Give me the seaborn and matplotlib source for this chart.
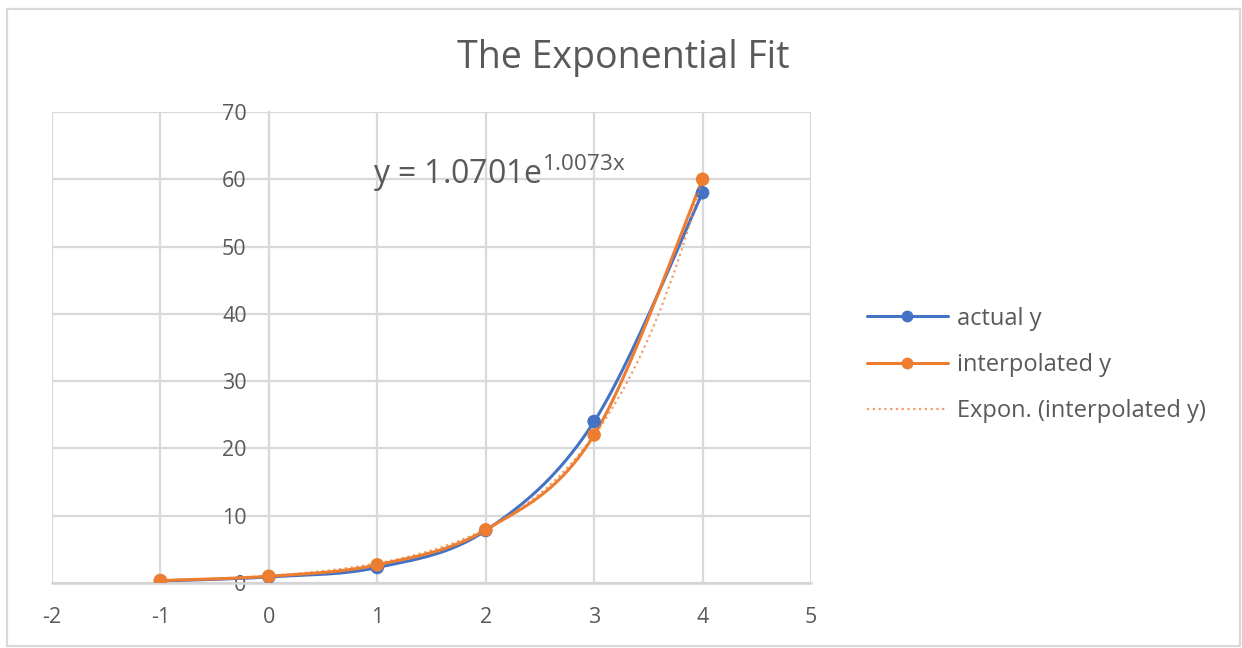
import matplotlib
matplotlib.use("Agg")
import numpy as np
import pandas as pd
import seaborn as sns
import matplotlib.pyplot as plt
from matplotlib.lines import Line2D
from matplotlib.patches import Rectangle

# ---- data ----
x_vals = [-1, 0, 1, 2, 3, 4]
actual_y = [0.3, 0.9, 2.3, 7.8, 24.0, 58.0]
interpolated_y = [0.37, 1.0, 2.7, 7.9, 22.0, 60.0]
fit_a = 1.0701
fit_b = 1.0073
x_ticks = [-2, -1, 0, 1, 2, 3, 4, 5]
y_ticks = [0, 10, 20, 30, 40, 50, 60, 70]
series_names = ["actual y", "interpolated y", "Expon. (interpolated y)"]
title_text = "The Exponential Fit"

BLUE = "#4472C4"
ORANGE = "#ED7D31"
GRID = "#D9D9D9"
TEXT = "#595959"


def smooth_curve(xs, ys, steps=40):
    """Catmull-Rom style smoothing (cubic Bezier) through the given points."""
    xs = np.asarray(xs, float)
    ys = np.asarray(ys, float)
    px = np.concatenate([[xs[0]], xs, [xs[-1]]])
    py = np.concatenate([[ys[0]], ys, [ys[-1]]])
    out_x, out_y = [], []
    t = np.linspace(0, 1, steps)
    for i in range(1, len(px) - 2):
        p0 = np.array([px[i], py[i]])
        p3 = np.array([px[i + 1], py[i + 1]])
        c1 = p0 + (np.array([px[i + 1], py[i + 1]]) - np.array([px[i - 1], py[i - 1]])) / 6
        c2 = p3 - (np.array([px[i + 2], py[i + 2]]) - np.array([px[i], py[i]])) / 6
        b = ((1 - t) ** 3)[:, None] * p0 + (3 * (1 - t) ** 2 * t)[:, None] * c1 \
            + (3 * (1 - t) * t ** 2)[:, None] * c2 + (t ** 3)[:, None] * p3
        out_x.extend(b[:, 0])
        out_y.extend(b[:, 1])
    return np.array(out_x), np.array(out_y)


sns.set_theme(style="white")
plt.rcParams["font.family"] = ["Open Sans", "DejaVu Sans"]
plt.rcParams["axes.unicode_minus"] = False

fig = plt.figure(figsize=(12.42, 6.48), dpi=100)
ax = fig.add_axes([52 / 1242, 1 - 583 / 648, (811 - 52) / 1242, (583 - 112) / 648])

# grid and axes styling
ax.set_xlim(-2, 5)
ax.set_ylim(0, 70)
ax.set_xticks(x_ticks)
ax.set_yticks(y_ticks)
ax.grid(True, color=GRID, linewidth=1.6)
ax.set_axisbelow(True)
for side in ["top", "right"]:
    ax.spines[side].set_visible(False)
ax.spines["left"].set_position(("data", 0))
ax.spines["left"].set_color(GRID)
ax.spines["left"].set_linewidth(1.6)
ax.spines["bottom"].set_color("#D4D4D4")
ax.spines["bottom"].set_linewidth(1.8)
ax.tick_params(axis="both", length=0, labelsize=15.5, labelcolor=TEXT)
ax.tick_params(axis="x", pad=17)
ax.tick_params(axis="y", pad=16)

# smoothed series lines
sx, sy = smooth_curve(x_vals, actual_y)
ix, iy = smooth_curve(x_vals, interpolated_y)
curves = pd.concat([
    pd.DataFrame({"x": sx, "y": sy, "series": series_names[0]}),
    pd.DataFrame({"x": ix, "y": iy, "series": series_names[1]}),
])
sns.lineplot(data=curves, x="x", y="y", hue="series", units="series", estimator=None,
             sort=False, palette={series_names[0]: BLUE, series_names[1]: ORANGE},
             linewidth=2.2, legend=False, ax=ax)

# data markers
points = pd.concat([
    pd.DataFrame({"x": x_vals, "y": actual_y, "series": series_names[0]}),
    pd.DataFrame({"x": x_vals, "y": interpolated_y, "series": series_names[1]}),
])
sns.scatterplot(data=points, x="x", y="y", hue="series",
                palette={series_names[0]: BLUE, series_names[1]: ORANGE},
                s=95, linewidth=0, legend=False, ax=ax, zorder=4)

# exponential trendline y = a * e^(b x)
tx = np.linspace(min(x_vals), max(x_vals), 300)
ty = fit_a * np.exp(fit_b * tx)
ax.plot(tx, ty, color=ORANGE, linewidth=1.6, linestyle=(0, (1, 1.6)), alpha=0.75, zorder=5)

ax.set_xlabel("")
ax.set_ylabel("")

# trendline equation
ax.text(0.965, 59.3, f"y = {fit_a:.4f}e$^{{\\mathregular{{{fit_b:.4f}x}}}}$",
        fontsize=23, color=TEXT, va="baseline", ha="left")

# title
fig.text(0.502, 1 - 58 / 648, title_text, fontsize=27, color=TEXT, ha="center", va="center")

# legend
handles = [
    Line2D([], [], color=BLUE, linewidth=2.2, marker="o", markersize=8.5, markeredgewidth=0),
    Line2D([], [], color=ORANGE, linewidth=2.2, marker="o", markersize=8.5, markeredgewidth=0),
    Line2D([], [], color=ORANGE, linewidth=1.6, linestyle=(0, (1, 1.6)), alpha=0.75),
]
fig.legend(handles, series_names, loc="center left", bbox_to_anchor=(846 / 1242, 1 - 365 / 648),
           frameon=False, fontsize=17, labelcolor=TEXT, handlelength=3.4,
           handletextpad=0.4, labelspacing=0.95)

# chart frame
fig.patches.append(Rectangle((7 / 1242, 2 / 648), (1240 - 7) / 1242, (646 - 9) / 648,
                             transform=fig.transFigure, fill=False, edgecolor=GRID,
                             linewidth=1.6))

fig.savefig("out.png", dpi=100, facecolor="white")
